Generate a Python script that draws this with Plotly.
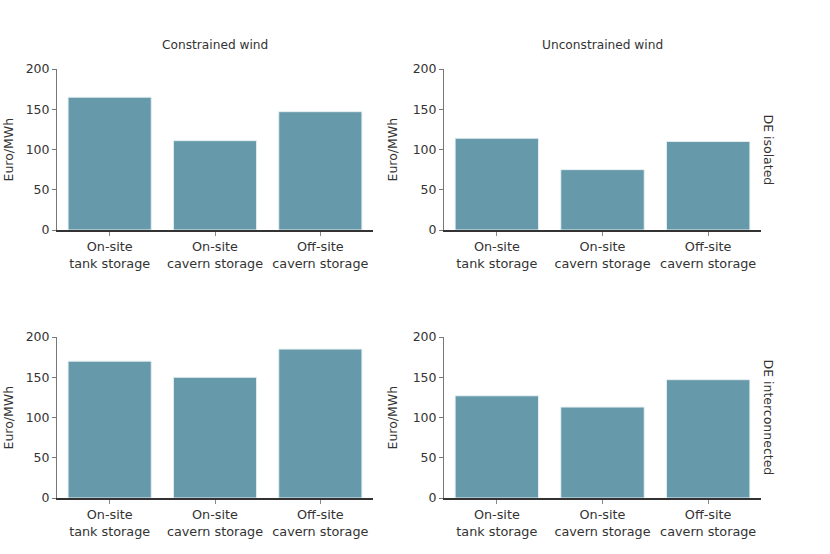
import plotly.graph_objects as go

# categories shared by every panel
categories = ["On-site<br>tank storage", "On-site<br>cavern storage", "Off-site<br>cavern storage"]

# Euro/MWh
constrained_isolated = [165, 111, 147]
unconstrained_isolated = [114, 75, 110]
constrained_interconnected = [170, 150, 185]
unconstrained_interconnected = [127, 113, 147]

col_titles = ["Constrained wind", "Unconstrained wind"]
row_titles = ["DE isolated", "DE interconnected"]
y_title = "Euro/MWh"

bar_color = "#6699aa"
font_col = "#333333"

W, H = 830, 554


def px_x(v):
    return v / W


def px_y(v):
    return 1 - v / H


panels = [
    (constrained_isolated, "x", "y"),
    (unconstrained_isolated, "x2", "y2"),
    (constrained_interconnected, "x3", "y3"),
    (unconstrained_interconnected, "x4", "y4"),
]

fig = go.Figure()
for vals, xa, ya in panels:
    fig.add_trace(go.Bar(
        x=categories, y=vals, xaxis=xa, yaxis=ya,
        marker=dict(color=bar_color, line=dict(color="#e8f0f2", width=1)),
        showlegend=False, hoverinfo="x+y",
    ))

x_domains = [[px_x(57), px_x(373)], [px_x(444), px_x(761)]]
y_domains = [[px_y(230), px_y(69)], [px_y(498), px_y(337)]]
ytitle_x = [px_x(8), px_x(392)]

xaxis_style = dict(
    showline=True, linecolor="#333333", linewidth=1.5,
    ticks="outside", ticklen=4, tickcolor="#888888",
    showgrid=False, automargin=False, tickfont=dict(size=12.8, color=font_col),
)
yaxis_style = dict(
    range=[0, 200], dtick=50, showline=True, linecolor="#777777", linewidth=1,
    ticks="outside", ticklen=4, tickcolor="#777777",
    showgrid=False, zeroline=False, automargin=False,
    tickfont=dict(size=12.5, color=font_col),
)

layout = dict(
    width=W, height=H,
    margin=dict(l=0, r=0, t=0, b=0, autoexpand=False),
    plot_bgcolor="white", paper_bgcolor="white",
    font=dict(family="DejaVu Sans, Verdana, sans-serif", size=12.5, color=font_col),
    bargap=0.21,
)

n = 1
for r in range(2):
    for c in range(2):
        suffix = "" if n == 1 else str(n)
        layout["xaxis" + suffix] = dict(xaxis_style, domain=x_domains[c], anchor="y" + suffix)
        layout["yaxis" + suffix] = dict(yaxis_style, domain=y_domains[r], anchor="x" + suffix)
        n += 1

fig.update_layout(**layout)

# y axis titles
for r in range(2):
    for c in range(2):
        fig.add_annotation(
            text=y_title, x=ytitle_x[c], y=sum(y_domains[r]) / 2,
            xref="paper", yref="paper", showarrow=False, textangle=-90,
            xanchor="center", yanchor="middle",
            font=dict(size=12.5, color=font_col),
        )

# column headers
for c, txt in enumerate(col_titles):
    fig.add_annotation(
        text=txt, x=sum(x_domains[c]) / 2, y=px_y(45),
        xref="paper", yref="paper", showarrow=False,
        xanchor="center", yanchor="middle",
        font=dict(size=12.2, color=font_col),
    )

# row labels on the right
for r, txt in enumerate(row_titles):
    fig.add_annotation(
        text=txt, x=px_x(768), y=sum(y_domains[r]) / 2,
        xref="paper", yref="paper", showarrow=False, textangle=90,
        xanchor="center", yanchor="middle",
        font=dict(size=12.5, color=font_col),
    )

# drop the default page margin so the figure sits at the window's corner
fig.write_html("out.html", config={"displayModeBar": False},
               post_script="document.body.style.margin = '0px';")
